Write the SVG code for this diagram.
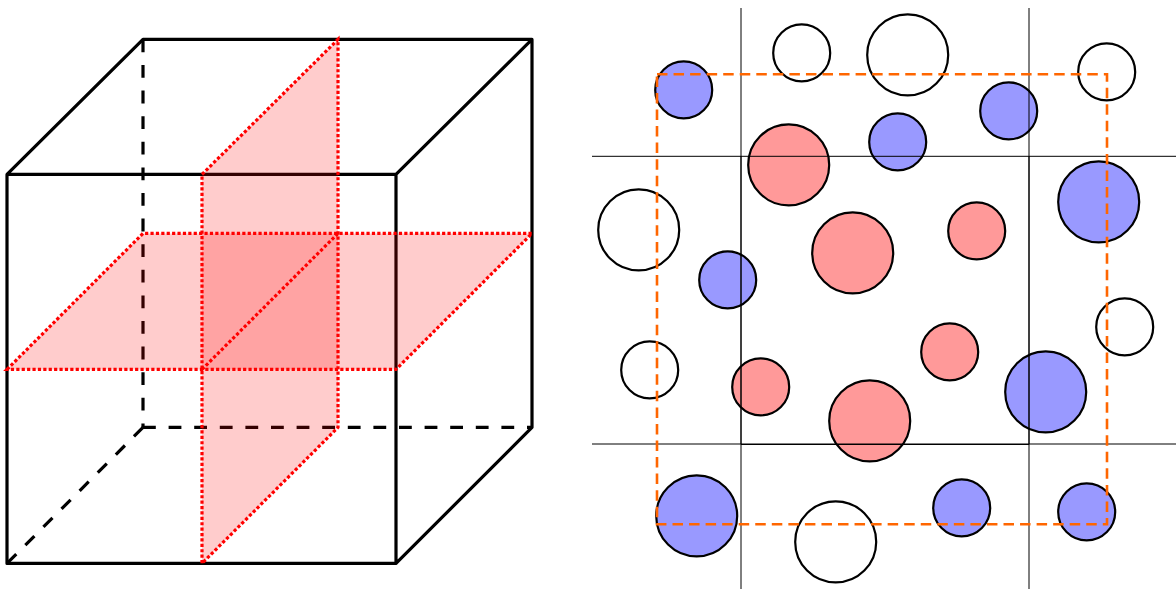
<svg xmlns="http://www.w3.org/2000/svg" width="1176" height="589" viewBox="0 0 1176 589">
<style>
.edge{stroke:#000;stroke-width:3.200;fill:none;stroke-linejoin:round}
.dash{stroke:#000;stroke-width:3.200;fill:none;stroke-dasharray:12.8 12.8}
.plane{fill:#f00;fill-opacity:.2;stroke:none}
.dot{fill:none;stroke:#f00;stroke-width:3.200;stroke-dasharray:3.200 2.200}
.grid{stroke:#000;stroke-width:1;fill:none}
.c{stroke:#000;stroke-width:2.200}
.w{fill:none}
.b{fill:#9999ff}
.r{fill:#ff9999}
</style>
<rect width="1176" height="589" fill="#fff"/>
<g transform="translate(0 0.400)">
<g id="cube-hidden">
<path class="dash" d="M143 39V427"/>
<path class="dash" d="M143 427H532"/>
<path class="dash" d="M143 427L7 563"/>
</g>
<g id="cube">
<path class="edge" d="M7 174H396V563H7ZM7 174L143 39H532L396 174M532 39V427L396 563"/>
</g>
<g id="planes">
<path class="plane" d="M202 174L338 39V427L202 563Z"/>
<path class="plane" d="M7 369L143 233H532L396 369Z"/>
<path class="dot" d="M202 174L338 39V427L202 563Z"/>
<path class="dot" d="M7 369L143 233H532L396 369Z"/>
<path class="dot" d="M202 369L338 233"/>
</g>
</g>
<g id="circles" transform="translate(-0.3 -0.100)">
<circle id="c1" class="c b" cx="684" cy="90" r="28.500"/>
<circle id="c2" class="c w" cx="802" cy="53" r="28.500"/>
<circle id="c3" class="c w" cx="908" cy="55" r="40.500"/>
<circle id="c4" class="c b" cx="1009" cy="111" r="28.500"/>
<circle id="c5" class="c w" cx="1107" cy="72" r="28.500"/>
<circle id="c6" class="c r" cx="789" cy="165" r="40.500"/>
<circle id="c7" class="c b" cx="898" cy="142" r="28.500"/>
<circle id="c8" class="c b" cx="1099" cy="202" r="40.500"/>
<circle id="c9" class="c w" cx="639" cy="230" r="40.500"/>
<circle id="c10" class="c b" cx="728" cy="280" r="28.500"/>
<circle id="c11" class="c r" cx="853" cy="253" r="40.500"/>
<circle id="c12" class="c r" cx="977" cy="231" r="28.500"/>
<circle id="c13" class="c w" cx="1125" cy="327" r="28.500"/>
<circle id="c14" class="c w" cx="650" cy="370" r="28.500"/>
<circle id="c15" class="c r" cx="761" cy="387" r="28.500"/>
<circle id="c16" class="c r" cx="950" cy="352" r="28.500"/>
<circle id="c17" class="c r" cx="870" cy="421" r="40.500"/>
<circle id="c18" class="c b" cx="1046" cy="392" r="40.500"/>
<circle id="c19" class="c b" cx="697" cy="516" r="40.500"/>
<circle id="c20" class="c w" cx="836" cy="542" r="40.500"/>
<circle id="c21" class="c b" cx="962" cy="508" r="28.500"/>
<circle id="c22" class="c b" cx="1087" cy="512" r="28.500"/>
</g>
<g id="grid">
<path class="grid" d="M741 8V589M1029 8V589M592 156.300H1176M592 444H1176"/>
<path class="grid" d="M741 156V444M1029 156V444M741 444.500H1029"/>
</g>
<g id="boundary">
<rect x="657" y="74.300" width="450" height="450" fill="none" stroke="#ff6600" stroke-width="2.600" stroke-dasharray="10.500 6.050"/>
</g>
</svg>
